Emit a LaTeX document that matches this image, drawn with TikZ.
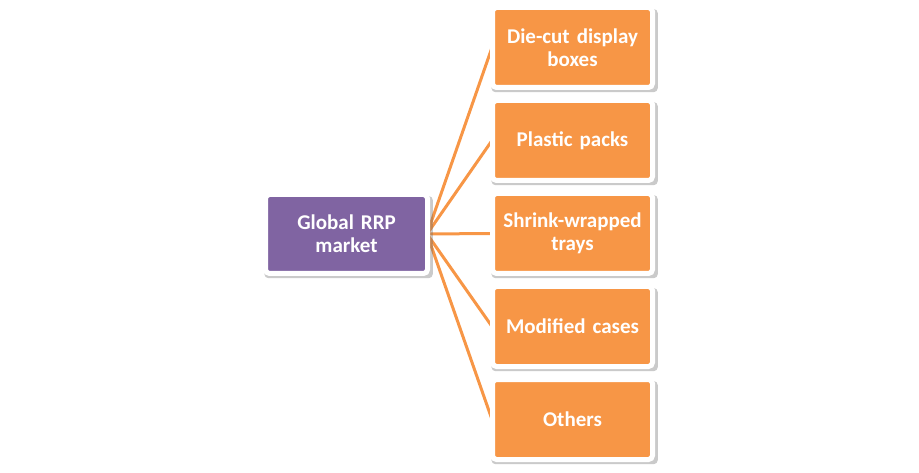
\documentclass[tikz,border=0pt]{standalone}
\usepackage{fontspec}
\setmainfont[WordSpace=0.8]{Carlito}
\usetikzlibrary{shadows,backgrounds}
\definecolor{orng}{HTML}{F79646}
\definecolor{purp}{HTML}{8064A2}
\tikzset{
  box/.style={rounded corners=4pt, draw=white, line width=5pt, minimum width=160pt, minimum height=80pt,
    text=white, font=\bfseries\fontsize{21}{23}\selectfont, align=center, inner sep=2pt, text width=154pt,
    drop shadow={shadow scale=1.04, shadow xshift=2pt, shadow yshift=-3pt, opacity=0.35, fill=black!60}},
  obox/.style={box, fill=orng},
  pbox/.style={box, fill=purp, minimum width=162pt, minimum height=79pt, text width=156pt},
  conn/.style={draw=orng, line width=3pt}
}
\begin{document}
\begin{tikzpicture}[x=1pt,y=-1pt]
\useasboundingbox (0,0) rectangle (919,473);
\node[pbox] (g) at (346.5,234) {Global RRP\\market};
\node[obox] (a) at (572.5,47.5) {Die-cut display\\boxes};
\node[obox] (b) at (572.5,140.5) {Plastic packs};
\node[obox] (c) at (572.5,233.5) {Shrink-wrapped\\trays};
\node[obox] (d) at (572.5,326.5) {Modified cases};
\node[obox] (e) at (572.5,419.5) {Others};
\begin{scope}[on background layer]
\coordinate (o) at ([xshift=-3pt]g.east);
\foreach \t in {a,b,c,d,e} \draw[conn] (o) -- ([xshift=2pt]\t.west);
\end{scope}
\end{tikzpicture}
\end{document}
